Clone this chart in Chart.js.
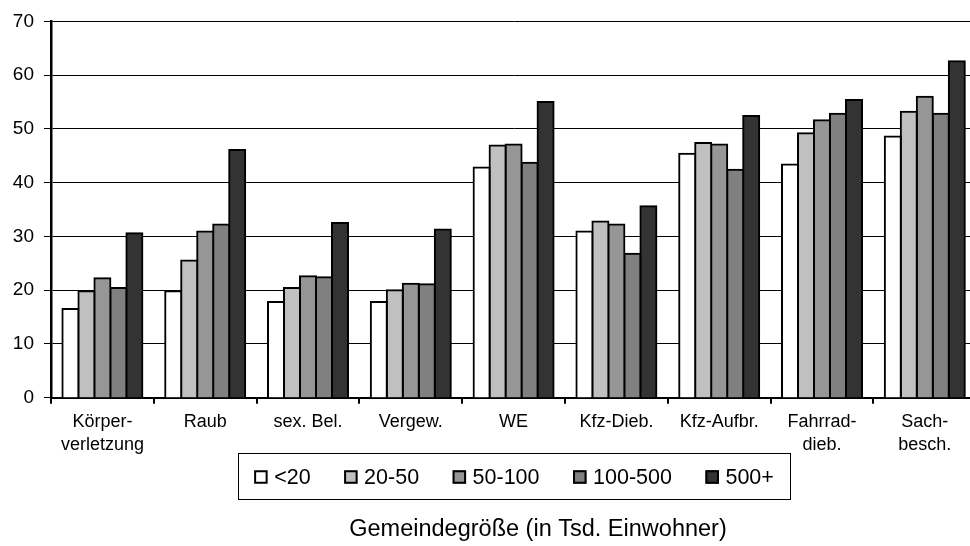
<!DOCTYPE html>
<html>
<head>
<meta charset="utf-8">
<script src="https://cdn.jsdelivr.net/npm/chart.js@4"></script>
<style>
    html, body { margin: 0; padding: 0; background: #fff; overflow: hidden; width: 970px; height: 546px; }
    #wrap { width: 980px; height: 546px; }
</style>
</head>
<body>
<div id="wrap"><canvas id="delikteChart" width="980" height="546"></canvas></div>
<script>
// Kategorien (Delikte) und Werte je Gemeindegröße
const categories = [
    ['Körper-', 'verletzung'], 'Raub', 'sex. Bel.', 'Vergew.', 'WE',
    'Kfz-Dieb.', 'Kfz-Aufbr.', ['Fahrrad-', 'dieb.'], ['Sach-', 'besch.']
];
const seriesNames = ['<20', '20-50', '50-100', '100-500', '500+'];
const under20   = [16.5, 19.8, 17.8, 17.8, 42.8, 30.9, 45.4, 43.4, 48.6];
const from20    = [19.8, 25.5, 20.4, 20.0, 46.9, 32.8, 47.4, 49.2, 53.2];
const from50    = [22.2, 30.9, 22.6, 21.2, 47.1, 32.2, 47.1, 51.6, 56.0];
const from100   = [20.4, 32.2, 22.4, 21.1, 43.7, 26.8, 42.4, 52.8, 52.8];
const over500   = [30.6, 46.1, 32.5, 31.3, 55.0, 35.6, 52.4, 55.4, 62.6];
const yTicks    = [0, 10, 20, 30, 40, 50, 60, 70];
const axisTitle = 'Gemeindegröße (in Tsd. Einwohner)';

const fills = ['#ffffff', '#c0c0c0', '#969696', '#808080', '#333333'];
const FONT = "'Liberation Sans', Arial, sans-serif";

/* Legende mit Rahmen + Achsentitel unten */
const legendBoxPlugin = {
    id: 'legendBox',
    afterDraw(chart) {
        const ctx = chart.ctx;
        const box = 13.5, gapText = 6.5, gapItem = 33.5, pad = 16;
        const midY = 477;
        const centerX = 514;
        ctx.save();
        ctx.font = `21.5px ${FONT}`;
        const items = chart.data.datasets.map((ds) => ({
            label: ds.label, color: ds.backgroundColor, w: ctx.measureText(ds.label).width
        }));
        let total = 0;
        items.forEach((it, i) => {
            total += box + gapText + it.w + (i < items.length - 1 ? gapItem : 0);
        });
        const left = centerX - total / 2;
        ctx.strokeStyle = '#000';
        ctx.lineWidth = 1;
        ctx.strokeRect(Math.round(left - pad) + 0.5, 453.5, Math.round(total + 2 * pad), 46);

        let x = left;
        ctx.textBaseline = 'middle';
        ctx.textAlign = 'left';
        items.forEach((it) => {
            ctx.fillStyle = it.color;
            ctx.fillRect(x, midY - box / 2, box, box);
            ctx.lineWidth = 2;
            ctx.strokeStyle = '#000';
            ctx.strokeRect(x + 1, midY - box / 2 + 1, box - 2, box - 2);
            ctx.fillStyle = '#000';
            ctx.fillText(it.label, x + box + gapText, midY + 1);
            x += box + gapText + it.w + gapItem;
        });

        ctx.font = `23.5px ${FONT}`;
        ctx.textAlign = 'center';
        ctx.fillText(axisTitle, 538, 530);
        ctx.restore();
    }
};

const datasets = [under20, from20, from50, from100, over500].map((values, i) => ({
    label: seriesNames[i],
    data: values,
    backgroundColor: fills[i],
    borderColor: '#000',
    borderWidth: 2,
    inflateAmount: 1,
    categoryPercentage: 0.778,
    barPercentage: 1.0
}));

new Chart(document.getElementById('delikteChart').getContext('2d'), {
    type: 'bar',
    data: { labels: categories, datasets },
    options: {
        responsive: false,
        animation: false,
        events: [],
        layout: { padding: { top: 20.7, right: 3.8, left: 0, bottom: 0 } },
        plugins: {
            legend: { display: false },
            tooltip: { enabled: false }
        },
        scales: {
            x: {
                grid: {
                    offset: true,
                    drawOnChartArea: false,
                    drawTicks: true,
                    tickLength: 6,
                    color: '#000',
                    lineWidth: 2
                },
                border: { color: '#000', width: 2 },
                ticks: {
                    color: '#000',
                    padding: 7,
                    maxRotation: 0,
                    autoSkip: false,
                    font: { family: FONT, size: 18, lineHeight: 1.28 }
                },
                afterFit(scale) { scale.height = 148.3; }
            },
            y: {
                min: 0,
                max: 70,
                afterBuildTicks(scale) { scale.ticks = yTicks.map((v) => ({ value: v })); },
                grid: { color: '#000', lineWidth: 1, tickLength: 7 },
                border: { color: '#000', width: 2.5 },
                ticks: {
                    color: '#000',
                    padding: 10,
                    font: { family: FONT, size: 19 }
                },
                afterFit(scale) { scale.width = 51; }
            }
        }
    },
    plugins: [legendBoxPlugin]
});
</script>
</body>
</html>
